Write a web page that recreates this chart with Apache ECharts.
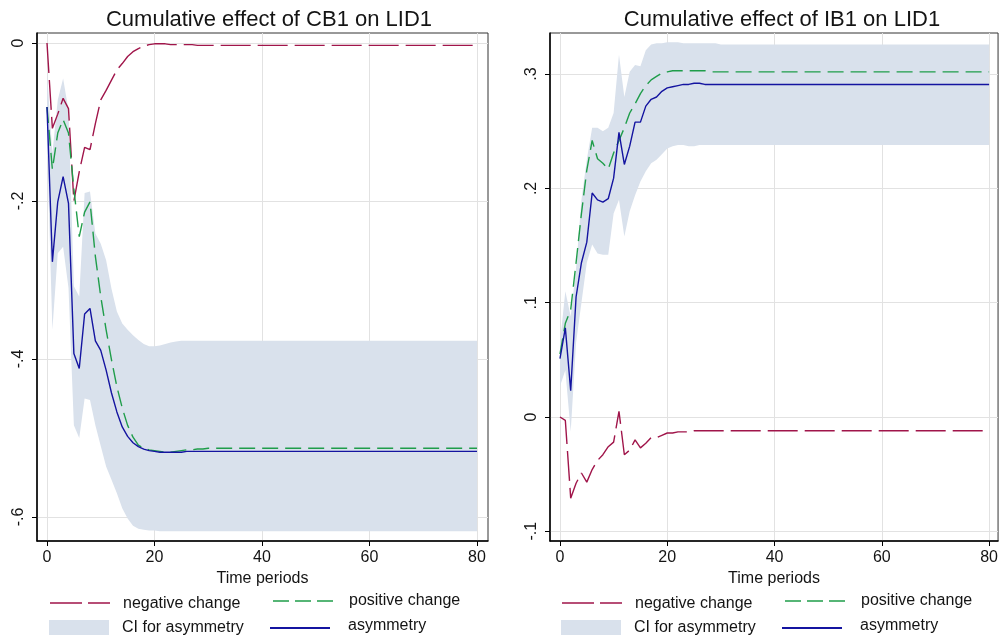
<!DOCTYPE html>
<html>
<head>
<meta charset="utf-8">
<title>Cumulative effects</title>
<script src="https://cdn.jsdelivr.net/npm/echarts@6/dist/echarts.min.js"></script>
<style>
  html, body { margin: 0; padding: 0; background: #fff; }
  #chart { width: 1001px; height: 641px; }
</style>
</head>
<body>
<div id="chart"></div>
<script>
// left panel: CB1 on LID1, periods 0..80
const negL = [
  0, -0.108, -0.090, -0.070, -0.083, -0.200, -0.163, -0.132, -0.135, -0.102,
  -0.072, -0.060, -0.047, -0.034, -0.026, -0.017, -0.011, -0.007, -0.004, -0.002,
  -0.001, -0.001, -0.001, -0.002, -0.002, -0.002, -0.002, -0.002, -0.003, -0.003,
  -0.003, -0.003, -0.003, -0.003, -0.003, -0.003, -0.003, -0.003, -0.003, -0.003,
  -0.003, -0.003, -0.003, -0.003, -0.003, -0.003, -0.003, -0.003, -0.003, -0.003,
  -0.003, -0.003, -0.003, -0.003, -0.003, -0.003, -0.003, -0.003, -0.003, -0.003,
  -0.003, -0.003, -0.003, -0.003, -0.003, -0.003, -0.003, -0.003, -0.003, -0.003,
  -0.003, -0.003, -0.003, -0.003, -0.003, -0.003, -0.003, -0.003, -0.003, -0.003,
  -0.003
]
const posL = [
  -0.081, -0.160, -0.114, -0.097, -0.114, -0.185, -0.245, -0.214, -0.201, -0.270,
  -0.321, -0.363, -0.401, -0.435, -0.462, -0.484, -0.499, -0.509, -0.513, -0.515,
  -0.516, -0.517, -0.518, -0.518, -0.517, -0.516, -0.515, -0.515, -0.514, -0.514,
  -0.513, -0.513, -0.513, -0.513, -0.513, -0.513, -0.513, -0.513, -0.513, -0.513,
  -0.513, -0.513, -0.513, -0.513, -0.513, -0.513, -0.513, -0.513, -0.513, -0.513,
  -0.513, -0.513, -0.513, -0.513, -0.513, -0.513, -0.513, -0.513, -0.513, -0.513,
  -0.513, -0.513, -0.513, -0.513, -0.513, -0.513, -0.513, -0.513, -0.513, -0.513,
  -0.513, -0.513, -0.513, -0.513, -0.513, -0.513, -0.513, -0.513, -0.513, -0.513,
  -0.513
]
const asymL = [
  -0.081, -0.277, -0.201, -0.169, -0.203, -0.393, -0.412, -0.343, -0.336, -0.377,
  -0.389, -0.414, -0.443, -0.467, -0.486, -0.498, -0.506, -0.511, -0.514, -0.516,
  -0.517, -0.518, -0.518, -0.518, -0.518, -0.518, -0.517, -0.517, -0.517, -0.517,
  -0.517, -0.517, -0.517, -0.517, -0.517, -0.517, -0.517, -0.517, -0.517, -0.517,
  -0.517, -0.517, -0.517, -0.517, -0.517, -0.517, -0.517, -0.517, -0.517, -0.517,
  -0.517, -0.517, -0.517, -0.517, -0.517, -0.517, -0.517, -0.517, -0.517, -0.517,
  -0.517, -0.517, -0.517, -0.517, -0.517, -0.517, -0.517, -0.517, -0.517, -0.517,
  -0.517, -0.517, -0.517, -0.517, -0.517, -0.517, -0.517, -0.517, -0.517, -0.517,
  -0.517
]
const ciHiL = [
  -0.036, -0.140, -0.072, -0.045, -0.085, -0.308, -0.321, -0.190, -0.188, -0.241,
  -0.254, -0.275, -0.311, -0.340, -0.355, -0.363, -0.370, -0.376, -0.381, -0.384,
  -0.384, -0.383, -0.381, -0.379, -0.378, -0.377, -0.377, -0.377, -0.377, -0.377,
  -0.377, -0.377, -0.377, -0.377, -0.377, -0.377, -0.377, -0.377, -0.377, -0.377,
  -0.377, -0.377, -0.377, -0.377, -0.377, -0.377, -0.377, -0.377, -0.377, -0.377,
  -0.377, -0.377, -0.377, -0.377, -0.377, -0.377, -0.377, -0.377, -0.377, -0.377,
  -0.377, -0.377, -0.377, -0.377, -0.377, -0.377, -0.377, -0.377, -0.377, -0.377,
  -0.377, -0.377, -0.377, -0.377, -0.377, -0.377, -0.377, -0.377, -0.377, -0.377,
  -0.377
]
const ciLoL = [
  -0.125, -0.363, -0.266, -0.258, -0.310, -0.484, -0.500, -0.450, -0.452, -0.484,
  -0.510, -0.536, -0.553, -0.570, -0.589, -0.602, -0.611, -0.615, -0.616, -0.617,
  -0.617, -0.618, -0.618, -0.618, -0.618, -0.618, -0.618, -0.618, -0.618, -0.618,
  -0.618, -0.618, -0.618, -0.618, -0.618, -0.618, -0.618, -0.618, -0.618, -0.618,
  -0.618, -0.618, -0.618, -0.618, -0.618, -0.618, -0.618, -0.618, -0.618, -0.618,
  -0.618, -0.618, -0.618, -0.618, -0.618, -0.618, -0.618, -0.618, -0.618, -0.618,
  -0.618, -0.618, -0.618, -0.618, -0.618, -0.618, -0.618, -0.618, -0.618, -0.618,
  -0.618, -0.618, -0.618, -0.618, -0.618, -0.618, -0.618, -0.618, -0.618, -0.618,
  -0.618
]

// right panel: IB1 on LID1
const negR = [
  0, -0.003, -0.071, -0.058, -0.049, -0.057, -0.046, -0.038, -0.033, -0.026,
  -0.022, 0.005, -0.033, -0.029, -0.020, -0.027, -0.023, -0.018, -0.018, -0.016,
  -0.014, -0.014, -0.013, -0.013, -0.013, -0.012, -0.012, -0.012, -0.012, -0.012,
  -0.012, -0.012, -0.012, -0.012, -0.012, -0.012, -0.012, -0.012, -0.012, -0.012,
  -0.012, -0.012, -0.012, -0.012, -0.012, -0.012, -0.012, -0.012, -0.012, -0.012,
  -0.012, -0.012, -0.012, -0.012, -0.012, -0.012, -0.012, -0.012, -0.012, -0.012,
  -0.012, -0.012, -0.012, -0.012, -0.012, -0.012, -0.012, -0.012, -0.012, -0.012,
  -0.012, -0.012, -0.012, -0.012, -0.012, -0.012, -0.012, -0.012, -0.012, -0.012,
  -0.012
]
const posR = [
  0.055, 0.082, 0.094, 0.135, 0.178, 0.216, 0.242, 0.226, 0.222, 0.217,
  0.231, 0.242, 0.253, 0.266, 0.274, 0.283, 0.290, 0.295, 0.298, 0.301,
  0.302, 0.303, 0.303, 0.303, 0.303, 0.303, 0.303, 0.303, 0.302, 0.302,
  0.302, 0.302, 0.302, 0.302, 0.302, 0.302, 0.302, 0.302, 0.302, 0.302,
  0.302, 0.302, 0.302, 0.302, 0.302, 0.302, 0.302, 0.302, 0.302, 0.302,
  0.302, 0.302, 0.302, 0.302, 0.302, 0.302, 0.302, 0.302, 0.302, 0.302,
  0.302, 0.302, 0.302, 0.302, 0.302, 0.302, 0.302, 0.302, 0.302, 0.302,
  0.302, 0.302, 0.302, 0.302, 0.302, 0.302, 0.302, 0.302, 0.302, 0.302,
  0.302
]
const asymR = [
  0.051, 0.078, 0.023, 0.105, 0.135, 0.153, 0.196, 0.190, 0.188, 0.191,
  0.209, 0.249, 0.221, 0.237, 0.258, 0.258, 0.272, 0.278, 0.280, 0.285,
  0.288, 0.289, 0.290, 0.291, 0.291, 0.292, 0.292, 0.291, 0.291, 0.291,
  0.291, 0.291, 0.291, 0.291, 0.291, 0.291, 0.291, 0.291, 0.291, 0.291,
  0.291, 0.291, 0.291, 0.291, 0.291, 0.291, 0.291, 0.291, 0.291, 0.291,
  0.291, 0.291, 0.291, 0.291, 0.291, 0.291, 0.291, 0.291, 0.291, 0.291,
  0.291, 0.291, 0.291, 0.291, 0.291, 0.291, 0.291, 0.291, 0.291, 0.291,
  0.291, 0.291, 0.291, 0.291, 0.291, 0.291, 0.291, 0.291, 0.291, 0.291,
  0.291
]
const ciHiR = [
  0.065, 0.110, 0.088, 0.130, 0.190, 0.225, 0.253, 0.253, 0.250, 0.253,
  0.266, 0.317, 0.280, 0.302, 0.308, 0.307, 0.321, 0.326, 0.327, 0.327,
  0.328, 0.328, 0.328, 0.327, 0.327, 0.327, 0.327, 0.327, 0.327, 0.327,
  0.326, 0.326, 0.326, 0.326, 0.326, 0.326, 0.326, 0.326, 0.326, 0.326,
  0.326, 0.326, 0.326, 0.326, 0.326, 0.326, 0.326, 0.326, 0.326, 0.326,
  0.326, 0.326, 0.326, 0.326, 0.326, 0.326, 0.326, 0.326, 0.326, 0.326,
  0.326, 0.326, 0.326, 0.326, 0.326, 0.326, 0.326, 0.326, 0.326, 0.326,
  0.326, 0.326, 0.326, 0.326, 0.326, 0.326, 0.326, 0.326, 0.326, 0.326,
  0.326
]
const ciLoR = [
  0.027, 0.041, -0.013, 0.065, 0.100, 0.135, 0.151, 0.143, 0.142, 0.142,
  0.178, 0.190, 0.158, 0.180, 0.194, 0.206, 0.215, 0.222, 0.225, 0.230,
  0.235, 0.237, 0.238, 0.238, 0.237, 0.237, 0.238, 0.238, 0.238, 0.238,
  0.238, 0.238, 0.238, 0.238, 0.238, 0.238, 0.238, 0.238, 0.238, 0.238,
  0.238, 0.238, 0.238, 0.238, 0.238, 0.238, 0.238, 0.238, 0.238, 0.238,
  0.238, 0.238, 0.238, 0.238, 0.238, 0.238, 0.238, 0.238, 0.238, 0.238,
  0.238, 0.238, 0.238, 0.238, 0.238, 0.238, 0.238, 0.238, 0.238, 0.238,
  0.238, 0.238, 0.238, 0.238, 0.238, 0.238, 0.238, 0.238, 0.238, 0.238,
  0.238
]

const xTicks = [0, 20, 40, 60, 80]
const yTicksL = [0, -0.2, -0.4, -0.6]
const yLabelsL = ['0', '-.2', '-.4', '-.6']
const yTicksR = [-0.1, 0, 0.1, 0.2, 0.3]
const yLabelsR = ['-.1', '0', '.1', '.2', '.3']

const titles = ['Cumulative effect of CB1 on LID1', 'Cumulative effect of IB1 on LID1']
const legendNames = ['negative change', 'positive change', 'CI for asymmetry', 'asymmetry']

const FONT = '"Liberation Sans", Arial, Helvetica, sans-serif'
const C_NEG = '#a0154a'
const C_POS = '#1f9d4a'
const C_ASYM = '#1414a0'
const C_CI = '#d9e1ec'
const C_GRID = '#e2e2e2'
const C_TEXT = '#141414'

const pairs = arr => arr.map((v, t) => [t, v])

function labelFor(vals, labels) {
  return v => {
    const i = vals.findIndex(x => Math.abs(x - v) < 1e-9)
    return i >= 0 ? labels[i] : ''
  }
}

function xAxisFor(gi, min, max) {
  return {
    gridIndex: gi, type: 'value', min, max,
    axisLine: { show: true, onZero: false, lineStyle: { color: '#000', width: 1.5 } },
    axisTick: { show: true, length: 5, customValues: xTicks, lineStyle: { color: '#000' } },
    axisLabel: { customValues: xTicks, fontSize: 16, fontFamily: FONT, color: C_TEXT, margin: 9 },
    splitLine: { show: true, lineStyle: { color: C_GRID, width: 1 } },
    name: 'Time periods', nameLocation: 'middle', nameGap: 22,
    nameTextStyle: { fontSize: 16, fontFamily: FONT, color: C_TEXT, verticalAlign: 'top' }
  }
}

function yAxisFor(gi, min, max, ticks, labels) {
  return {
    gridIndex: gi, type: 'value', min, max,
    axisLine: { show: true, onZero: false, lineStyle: { color: '#000', width: 1.5 } },
    axisTick: { show: true, length: 5, customValues: ticks, lineStyle: { color: '#000' } },
    axisLabel: {
      customValues: ticks, rotate: 90, fontSize: 16, fontFamily: FONT, color: C_TEXT, margin: 10,
      formatter: labelFor(ticks, labels)
    },
    splitLine: { show: true, lineStyle: { color: C_GRID, width: 1 } }
  }
}

// CI band as one polygon: upper bound left to right, lower bound back
function bandSeries(gi, lo, hi) {
  return {
    type: 'custom', name: legendNames[2], xAxisIndex: gi, yAxisIndex: gi, silent: true,
    data: hi.map((h, t) => [t, lo[t], h]),
    encode: { x: 0, y: [1, 2] },
    renderItem: (params, api) => {
      if (params.dataIndex !== 0) return null
      const top = hi.map((h, t) => api.coord([t, h]))
      const bottom = lo.map((l, t) => api.coord([t, l])).reverse()
      return {
        type: 'polygon',
        shape: { points: top.concat(bottom) },
        style: { fill: C_CI }
      }
    }
  }
}

function seriesFor(gi, neg, pos, asym, lo, hi) {
  const base = { type: 'line', xAxisIndex: gi, yAxisIndex: gi, symbol: 'none', silent: true }
  return [
    bandSeries(gi, lo, hi),
    { ...base, name: legendNames[0], data: pairs(neg),
      lineStyle: { color: C_NEG, width: 1.4, type: [30, 7] } },
    { ...base, name: legendNames[1], data: pairs(pos),
      lineStyle: { color: C_POS, width: 1.4, type: [16, 7] } },
    { ...base, name: legendNames[3], data: pairs(asym),
      lineStyle: { color: C_ASYM, width: 1.4 } }
  ]
}

// hand-made legend block under each panel
function legendFor(x0) {
  const txt = (text, x, y) => ({
    type: 'text', x, y,
    style: { text, fill: C_TEXT, fontSize: 16, fontFamily: FONT, verticalAlign: 'middle' }
  })
  return [
    { type: 'line', shape: { x1: x0, y1: 603, x2: x0 + 60, y2: 603 },
      style: { stroke: C_NEG, lineWidth: 1.4, lineDash: [32, 6] } },
    txt(legendNames[0], x0 + 73, 604),
    { type: 'line', shape: { x1: x0 + 223, y1: 601, x2: x0 + 285, y2: 601 },
      style: { stroke: C_POS, lineWidth: 1.4, lineDash: [16, 6] } },
    txt(legendNames[1], x0 + 299, 601),
    { type: 'rect', shape: { x: x0 - 1, y: 620, width: 60, height: 15 }, style: { fill: C_CI } },
    txt(legendNames[2], x0 + 72, 628),
    { type: 'line', shape: { x1: x0 + 220, y1: 628, x2: x0 + 280, y2: 628 },
      style: { stroke: C_ASYM, lineWidth: 1.8 } },
    txt(legendNames[3], x0 + 298, 626)
  ]
}

const chart = echarts.init(document.getElementById('chart'), null, { renderer: 'canvas' })
chart.setOption({
  animation: false,
  backgroundColor: '#fff',
  title: [
    { text: titles[0], left: 264, top: 4, textAlign: 'center',
      textStyle: { fontSize: 22, fontWeight: 'normal', fontFamily: FONT, color: C_TEXT } },
    { text: titles[1], left: 777, top: 4, textAlign: 'center',
      textStyle: { fontSize: 22, fontWeight: 'normal', fontFamily: FONT, color: C_TEXT } }
  ],
  grid: [
    { left: 37, top: 33, width: 451, height: 508, show: true, borderColor: '#333', borderWidth: 1 },
    { left: 550, top: 33, width: 450, height: 508, show: true, borderColor: '#333', borderWidth: 1 }
  ],
  xAxis: [xAxisFor(0, -1.86, 82.05), xAxisFor(1, -1.86, 81.67)],
  yAxis: [
    yAxisFor(0, -0.6304, 0.0127, yTicksL, yLabelsL),
    yAxisFor(1, -0.1085, 0.336, yTicksR, yLabelsR)
  ],
  graphic: [...legendFor(50), ...legendFor(562)],
  series: [
    ...seriesFor(0, negL, posL, asymL, ciLoL, ciHiL),
    ...seriesFor(1, negR, posR, asymR, ciLoR, ciHiR)
  ]
})
</script>
</body>
</html>
